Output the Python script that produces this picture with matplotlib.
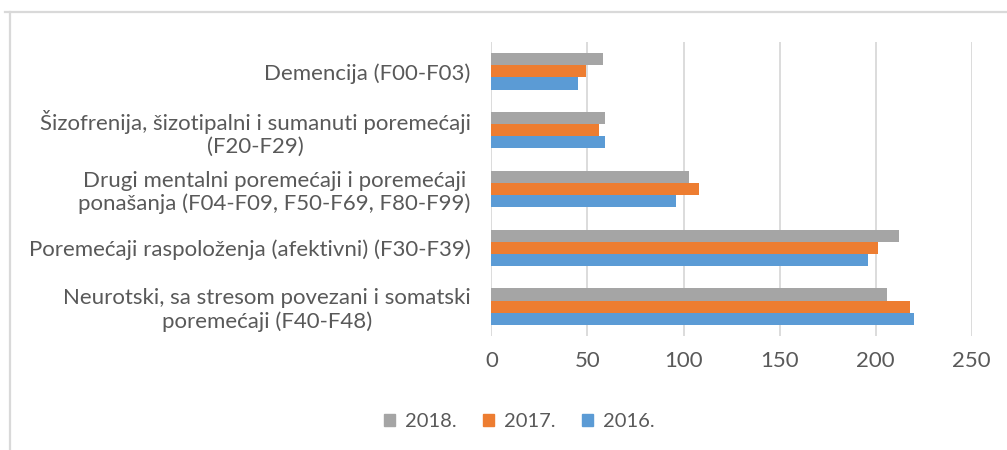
import numpy as np
import matplotlib.pyplot as plt
from matplotlib.lines import Line2D
from matplotlib.patches import Patch

# kategorije (odozgo prema dolje)
kategorije = [
    "Demencija (F00-F03)",
    "Šizofrenija, šizotipalni i sumanuti poremećaji\n(F20-F29)",
    "Drugi mentalni poremećaji i poremećaji\nponašanja (F04-F09, F50-F69, F80-F99)",
    "Poremećaji raspoloženja (afektivni) (F30-F39)",
    "Neurotski, sa stresom povezani i somatski\nporemećaji (F40-F48)",
]
god_2018 = [58, 59, 103, 212, 206]
god_2017 = [49, 56, 108, 201, 218]
god_2016 = [45, 59, 96, 196, 220]

serije = ["2018.", "2017.", "2016."]
boje = ["#A5A5A5", "#ED7D31", "#5B9BD5"]
vrijednosti = [god_2018, god_2017, god_2016]

plt.rcParams['font.family'] = ['Lato', 'DejaVu Sans']
siva_tekst = "#595959"
velicina = 16

fig = plt.figure(figsize=(10.07, 4.5), dpi=100)
ax = fig.add_axes([0.488, 0.253, 0.477, 0.654])

y = np.arange(len(kategorije))
h = 0.207
for i, (ser, boja, vals) in enumerate(zip(serije, boje, vrijednosti)):
    ax.barh(y + (i - 1) * h, vals, height=h, color=boja, label=ser)

ax.set_ylim(len(kategorije) - 0.5, -0.5)
ax.set_xlim(0, 250)
ax.set_xticks(np.arange(0, 251, 50))
ax.set_yticks(y)
ax.set_yticklabels(kategorije, multialignment='center', linespacing=1.15)
ax.tick_params(axis='y', length=0, pad=15, labelsize=velicina, labelcolor=siva_tekst)
ax.tick_params(axis='x', length=0, pad=11, labelsize=velicina, labelcolor=siva_tekst)
ax.grid(axis='x', color='#D9D9D9', linewidth=1.3)
ax.set_axisbelow(True)
for s in ax.spines.values():
    s.set_visible(False)

rucke = [Patch(color=b) for b in boje]
fig.legend(rucke, serije, loc='center', bbox_to_anchor=(0.516, 0.064), ncol=3,
           frameon=False, fontsize=14.5, labelcolor=siva_tekst,
           handlelength=0.55, handleheight=0.55, handletextpad=0.5, columnspacing=1.3)

# okvir grafikona
fig.add_artist(Line2D([5 / 1007, 1], [1 - 12 / 450] * 2, color='#D9D9D9', lw=1.6))
fig.add_artist(Line2D([10 / 1007] * 2, [0, 1 - 12 / 450], color='#D9D9D9', lw=1.6))

fig.savefig("out.png", dpi=100)
